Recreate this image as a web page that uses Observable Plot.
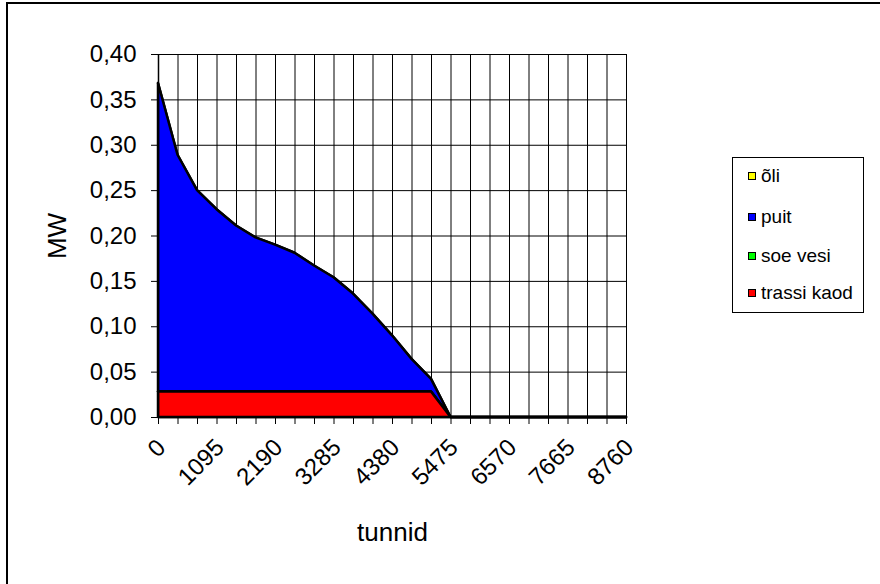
<!DOCTYPE html>
<html><head><meta charset="utf-8">
<script src="https://cdn.jsdelivr.net/npm/d3@7"></script>
<script src="https://cdn.jsdelivr.net/npm/@observablehq/plot@0.6"></script>
<style>
html,body{margin:0;padding:0;width:880px;height:584px;overflow:hidden;background:#fff;font-family:"Liberation Sans",Arial,sans-serif;}
#frame{position:absolute;left:6px;top:2px;width:900px;height:600px;border:2px solid #000;box-sizing:border-box;}
#chart{position:absolute;left:0;top:0;}
#legend{position:absolute;left:732px;top:157px;width:132px;height:156px;border:1px solid #000;box-sizing:border-box;background:#fff;}
.item{position:absolute;left:15px;font-size:19px;line-height:20px;display:flex;align-items:center;white-space:nowrap;}
.sw{width:6px;height:6px;border:1.5px solid #000;margin-right:5px;}
g[aria-label="x-axis label"] text, g[aria-label="y-axis label"] text{font-size:26px;}
</style></head><body>
<div id="frame"></div><div id="chart"></div><div id="legend"></div>
<script>
const hours = [0,365,730,1095,1460,1825,2190,2555,2920,3285,3650,4015,4380,4745,5110,5475,5840,6205,6570,6935,7300,7665,8030,8395,8760];
const seriesNames = ["õli","puit","soe vesi","trassi kaod"];
const seriesColors = ["#ffff00","#0000ff","#00ff00","#ff0000"];
const stackOrder = ["trassi kaod","soe vesi","puit","õli"];
const oli =        [0,0,0,0,0,0,0,0,0,0,0,0,0,0,0,0,0,0,0,0,0,0,0,0,0];
const puit =       [0.340,0.261,0.222,0.201,0.183,0.170,0.162,0.153,0.139,0.126,0.108,0.086,0.062,0.036,0.014,0,0,0,0,0,0,0,0,0,0];
const soeVesi =    [0,0,0,0,0,0,0,0,0,0,0,0,0,0,0,0,0,0,0,0,0,0,0,0,0];
const trassiKaod = [0.028,0.028,0.028,0.028,0.028,0.028,0.028,0.028,0.028,0.028,0.028,0.028,0.028,0.028,0.028,0,0,0,0,0,0,0,0,0,0];
const yTicks = [0,0.05,0.10,0.15,0.20,0.25,0.30,0.35,0.40];
const xLabels = [0,1095,2190,3285,4380,5475,6570,7665,8760];

const valuesBySeries = {"õli": oli, "puit": puit, "soe vesi": soeVesi, "trassi kaod": trassiKaod};
const data = [];
for (const s of seriesNames) hours.forEach((h, i) => data.push({h, v: valuesBySeries[s][i], s}));

const chart = Plot.plot({
  width: 880, height: 584,
  marginLeft: 158, marginRight: 254, marginTop: 54, marginBottom: 167,
  style: {fontFamily: "'Liberation Sans', Arial, sans-serif", fontSize: "24px", background: "transparent", overflow: "visible"},
  x: {domain: [0, 8760]},
  y: {domain: [0, 0.40]},
  color: {domain: seriesNames, range: seriesColors},
  marks: [
    Plot.gridX(hours, {stroke: "#000", strokeOpacity: 1, strokeWidth: 1}),
    Plot.gridY(yTicks, {stroke: "#000", strokeOpacity: 1, strokeWidth: 1}),
    Plot.areaY(data, {x: "h", y: "v", z: "s", fill: "s", order: stackOrder, stroke: "#000", strokeWidth: 2.5, strokeLinejoin: "round"}),
    Plot.axisY(yTicks, {tickSize: 7, tickPadding: 15, tickFormat: d => d3.format(".2f")(d).replace(".", ","), label: "MW", labelAnchor: "center", labelArrow: "none", labelOffset: 111, fontSize: 24}),
    Plot.axisX(hours, {tickSize: 7, tickFormat: () => "", label: null, strokeOpacity: 1}),
    Plot.axisX(xLabels, {tickSize: 0, tickPadding: 26, dx: 3, tickRotate: -45, tickFormat: d => String(d), label: "tunnid", labelAnchor: "center", labelArrow: "none", labelOffset: 123, fontSize: 24}),
    Plot.ruleY([0], {stroke: "#000", strokeWidth: 1.5}),
    Plot.ruleX([0], {stroke: "#000", strokeWidth: 1.5})
  ]
});
document.getElementById("chart").appendChild(chart);

const legend = document.getElementById("legend");
const rowTops = [8, 49, 88, 125];
seriesNames.forEach((s, i) => {
  const it = document.createElement("div");
  it.className = "item";
  it.style.top = rowTops[i] + "px";
  const sw = document.createElement("span");
  sw.className = "sw";
  sw.style.background = seriesColors[i];
  const t = document.createElement("span");
  t.textContent = s;
  it.appendChild(sw); it.appendChild(t);
  legend.appendChild(it);
});
</script>
</body></html>
